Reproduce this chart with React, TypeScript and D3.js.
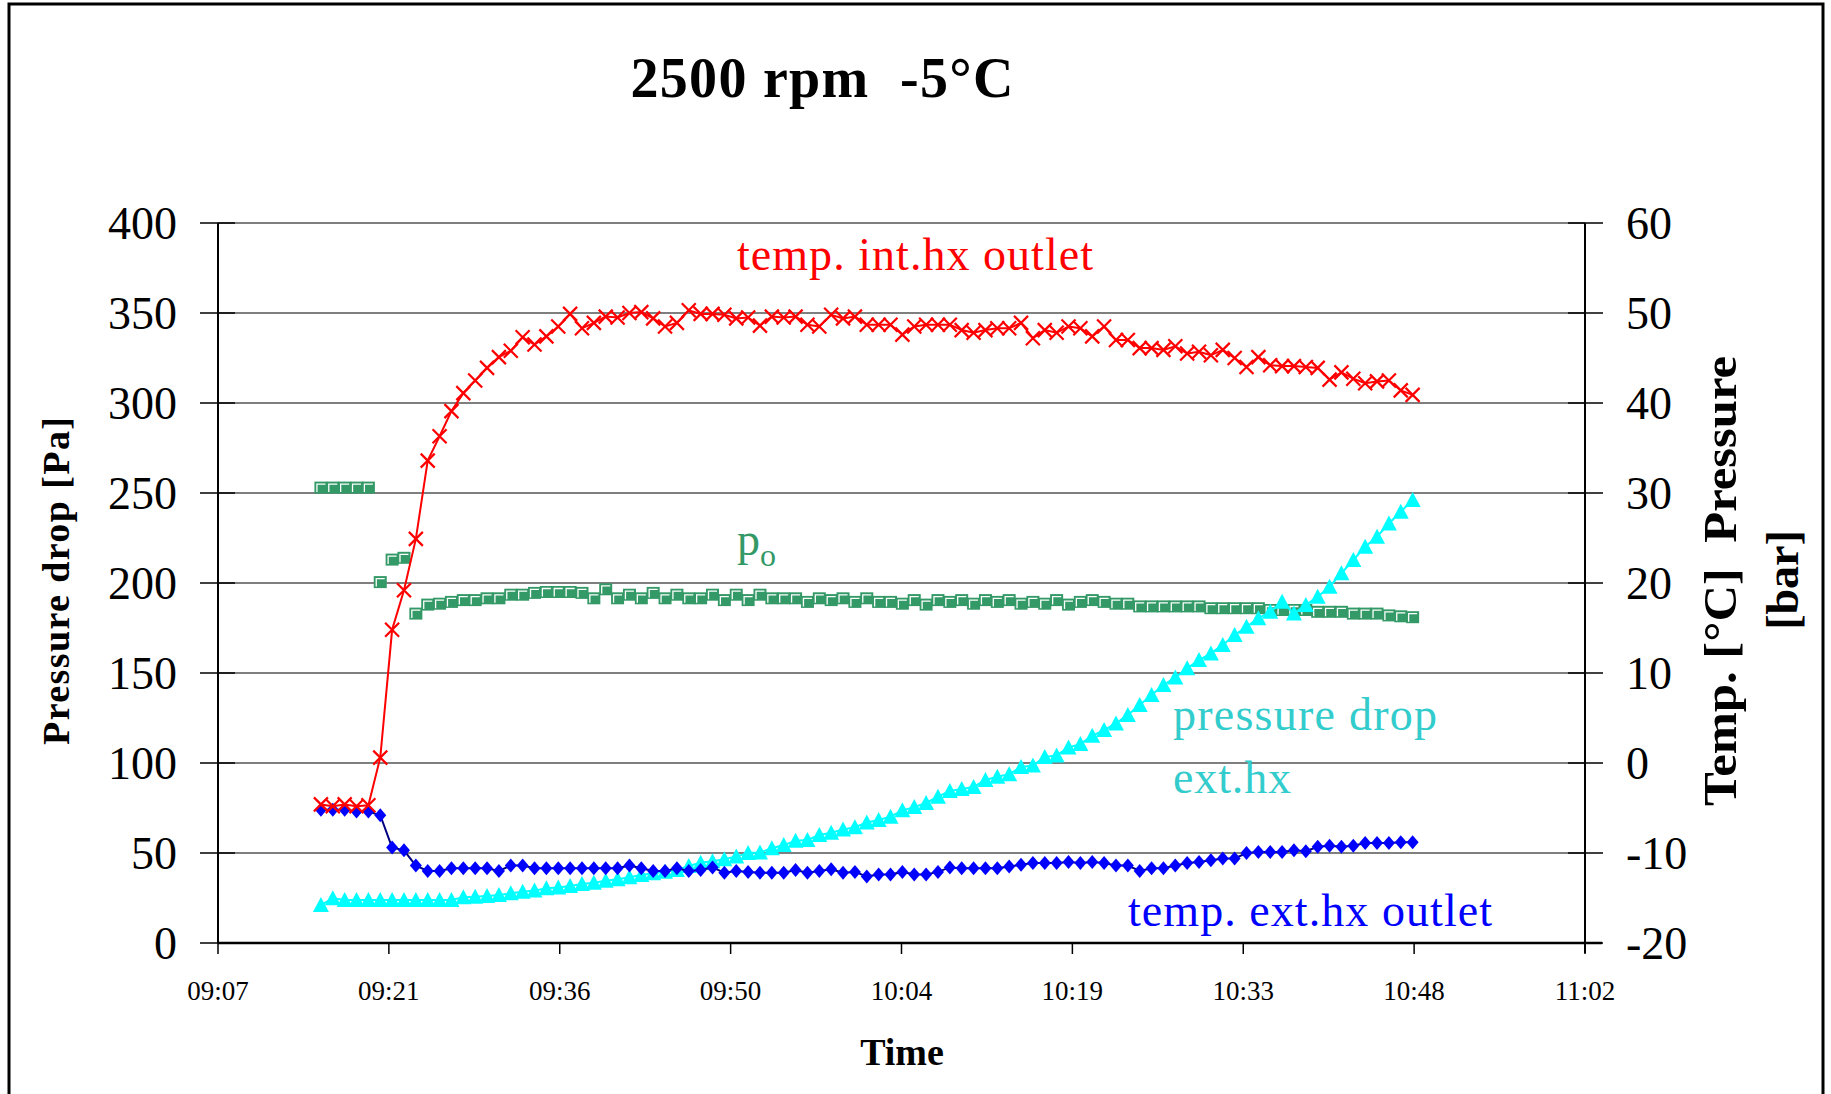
import * as d3 from 'd3'

// logger time stamps (one sample per minute)
const times = [
  '09:16', '09:17', '09:18', '09:19', '09:20', '09:21', '09:22', '09:23', '09:24', '09:25',
  '09:26', '09:27', '09:28', '09:29', '09:30', '09:31', '09:32', '09:33', '09:34', '09:35',
  '09:36', '09:37', '09:38', '09:39', '09:40', '09:41', '09:42', '09:43', '09:44', '09:45',
  '09:46', '09:47', '09:48', '09:49', '09:50', '09:51', '09:52', '09:53', '09:54', '09:55',
  '09:56', '09:57', '09:58', '09:59', '10:00', '10:01', '10:02', '10:03', '10:04', '10:05',
  '10:06', '10:07', '10:08', '10:09', '10:10', '10:11', '10:12', '10:13', '10:14', '10:15',
  '10:16', '10:17', '10:18', '10:19', '10:20', '10:21', '10:22', '10:23', '10:24', '10:25',
  '10:26', '10:27', '10:28', '10:29', '10:30', '10:31', '10:32', '10:33', '10:34', '10:35',
  '10:36', '10:37', '10:38', '10:39', '10:40', '10:41', '10:42', '10:43', '10:44', '10:45',
  '10:46', '10:47', '10:48',
]

// pressure drop ext.hx [Pa] (left axis)
const pressureDrop = [
  21.1, 24.8, 23.9, 23.9, 23.9, 23.9, 23.9, 23.9, 23.9, 23.9,
  23.9, 23.9, 25.4, 25.7, 26.1, 26.7, 27.6, 28.5, 29.1, 30.4,
  30.9, 31.7, 32.8, 33.5, 34.6, 35.4, 36.5, 37.8, 38.7, 39.6,
  40.6, 42.8, 44.6, 45.4, 46.5, 48.0, 50.0, 50.3, 52.6, 54.4,
  56.8, 57.2, 60.0, 61.3, 63.1, 64.3, 66.9, 68.3, 70.2, 73.7,
  75.5, 77.8, 81.3, 84.5, 85.5, 86.7, 90.6, 92.4, 93.8, 97.8,
  98.6, 103.3, 104.2, 108.6, 110.5, 115.1, 118.3, 122.0, 126.7, 132.2,
  137.8, 143.3, 147.5, 152.6, 157.2, 160.9, 165.6, 171.1, 175.7, 180.4,
  184.0, 189.6, 183.1, 187.8, 192.4, 197.9, 205.4, 212.8, 220.2, 225.7,
  233.1, 239.6, 246.1,
]

// p_o [bar] (right axis)
const po = [
  30.6, 30.6, 30.6, 30.6, 30.6, 20.1, 22.6, 22.8, 16.6, 17.6,
  17.7, 17.9, 18.1, 18.1, 18.3, 18.3, 18.7, 18.7, 18.9, 19.0,
  19.0, 19.0, 18.9, 18.3, 19.3, 18.3, 18.7, 18.3, 18.9, 18.3,
  18.7, 18.3, 18.3, 18.7, 18.1, 18.7, 18.1, 18.7, 18.3, 18.3,
  18.3, 17.9, 18.3, 18.1, 18.3, 17.9, 18.3, 17.9, 17.9, 17.7,
  18.1, 17.6, 18.1, 17.9, 18.1, 17.7, 18.1, 17.9, 18.1, 17.7,
  17.9, 17.7, 18.1, 17.6, 17.9, 18.1, 17.9, 17.7, 17.7, 17.4,
  17.4, 17.4, 17.4, 17.4, 17.4, 17.2, 17.2, 17.2, 17.2, 17.2,
  17.0, 17.0, 17.0, 17.0, 16.8, 16.8, 16.8, 16.6, 16.6, 16.6,
  16.4, 16.3, 16.2,
]

// temp. int.hx outlet [°C] (right axis)
const tempInt = [
  -4.6, -4.8, -4.6, -4.8, -4.7, 0.6, 14.8, 19.2, 24.9, 33.6,
  36.3, 39.1, 41.1, 42.5, 43.9, 45.1, 45.8, 47.3, 46.5, 47.4,
  48.5, 49.9, 48.3, 48.9, 49.6, 49.5, 50.0, 50.1, 49.4, 48.5,
  48.9, 50.3, 49.9, 49.9, 49.8, 49.4, 49.5, 48.6, 49.6, 49.5,
  49.6, 48.7, 48.5, 49.8, 49.4, 49.6, 48.7, 48.7, 48.7, 47.6,
  48.5, 48.7, 48.7, 48.7, 48.1, 47.8, 48.1, 48.3, 48.3, 48.9,
  47.2, 48.1, 47.8, 48.5, 48.3, 47.4, 48.5, 47.0, 47.0, 46.1,
  46.1, 45.9, 46.3, 45.5, 45.7, 45.3, 45.9, 45.0, 44.0, 45.1,
  44.2, 44.1, 44.1, 44.0, 43.9, 42.6, 43.4, 42.7, 42.2, 42.4,
  42.5, 41.4, 40.9,
]

// temp. ext.hx outlet [°C] (right axis)
const tempExt = [
  -5.2, -5.2, -5.2, -5.4, -5.4, -5.8, -9.4, -9.7, -11.4, -12.0,
  -12.0, -11.7, -11.7, -11.7, -11.7, -12.0, -11.4, -11.4, -11.7, -11.7,
  -11.7, -11.7, -11.7, -11.7, -11.7, -11.7, -11.4, -11.7, -12.0, -12.0,
  -11.7, -12.0, -11.9, -11.6, -12.2, -12.0, -12.1, -12.2, -12.2, -12.2,
  -11.9, -12.2, -12.0, -11.8, -12.2, -12.1, -12.6, -12.4, -12.4, -12.1,
  -12.4, -12.4, -12.1, -11.6, -11.7, -11.7, -11.7, -11.7, -11.5, -11.3,
  -11.1, -11.1, -11.1, -11.0, -11.1, -11.0, -11.1, -11.4, -11.4, -12.0,
  -11.7, -11.7, -11.4, -11.1, -11.0, -10.8, -10.6, -10.6, -10.0, -9.9,
  -9.9, -9.9, -9.7, -9.8, -9.3, -9.2, -9.3, -9.2, -8.9, -8.9,
  -8.9, -8.8, -8.8,
]

// x axis ticks as fractions of a day (Excel style)
const xTicks = [0.38, 0.39, 0.4, 0.41, 0.42, 0.43, 0.44, 0.45, 0.46]
const xTickLabels = ['09:07', '09:21', '09:36', '09:50', '10:04', '10:19', '10:33', '10:48', '11:02']
const leftTicks = [0, 50, 100, 150, 200, 250, 300, 350, 400]
const rightTicks = [-20, -10, 0, 10, 20, 30, 40, 50, 60]

const W = 1831
const H = 1094
const plot = { left: 218, right: 1585, top: 223, bottom: 943 }
const serif = '"Liberation Serif", "Times New Roman", serif'

const toDay = (s: string) => {
  const [h, m] = s.split(':').map(Number)
  return (h * 60 + m) / 1440
}

export default function App() {
  const days = times.map(toDay)

  const x = d3.scaleLinear().domain([0.38, 0.46]).range([plot.left, plot.right])
  const yL = d3.scaleLinear().domain([0, 400]).range([plot.bottom, plot.top])
  const yR = d3.scaleLinear().domain([-20, 60]).range([plot.bottom, plot.top])

  // sampled just before the full minute
  const px = (i: number) => x(days[i]) - 1.5

  const lineR = d3
    .line<number>()
    .x((_, i) => px(i))
    .y((d) => yR(d))
  const lineL = d3
    .line<number>()
    .x((_, i) => px(i))
    .y((d) => yL(d))

  return (
    <svg width={W} height={H} style={{ position: 'absolute', left: 0, top: 0, background: '#fff' }}>
      <rect x={9} y={4} width={1814} height={1110} fill="#fff" stroke="#000" strokeWidth={3} />

      {/* title */}
      <text x={822} y={97} textAnchor="middle" fontFamily={serif} fontWeight="bold" fontSize={56} textLength={383} xmlSpace="preserve">
        2500 rpm  -5°C
      </text>

      {/* grid lines */}
      {leftTicks.slice(1).map((t) => (
        <line key={'g' + t} x1={plot.left} x2={plot.right} y1={yL(t)} y2={yL(t)} stroke="#000" strokeWidth={1.2} />
      ))}

      {/* axes */}
      <line x1={plot.left} x2={plot.left} y1={plot.top} y2={plot.bottom} stroke="#000" strokeWidth={2} />
      <line x1={plot.right} x2={plot.right} y1={plot.top} y2={plot.bottom + 10} stroke="#000" strokeWidth={2} />
      <line x1={plot.left} x2={plot.right + 17} y1={plot.bottom} y2={plot.bottom} stroke="#000" strokeWidth={2.5} />

      {leftTicks.map((t) => (
        <g key={'l' + t}>
          <line x1={plot.left - 18} x2={plot.left + 17} y1={yL(t)} y2={yL(t)} stroke="#000" strokeWidth={1.5} />
          <text x={177} y={yL(t)} dy="0.34em" textAnchor="end" fontFamily={serif} fontSize={46}>
            {t}
          </text>
        </g>
      ))}
      {rightTicks.map((t) => (
        <g key={'r' + t}>
          <line x1={plot.right - 17} x2={plot.right + 18} y1={yR(t)} y2={yR(t)} stroke="#000" strokeWidth={1.5} />
          <text x={1626} y={yR(t)} dy="0.34em" fontFamily={serif} fontSize={46}>
            {t}
          </text>
        </g>
      ))}
      {xTicks.map((t, i) => (
        <g key={'x' + t}>
          <line x1={x(t)} x2={x(t)} y1={plot.bottom} y2={plot.bottom + 11} stroke="#000" strokeWidth={1.5} />
          <text x={x(t)} y={1000} textAnchor="middle" fontFamily={serif} fontSize={27}>
            {xTickLabels[i]}
          </text>
        </g>
      ))}

      {/* axis titles */}
      <text x={902} y={1065} textAnchor="middle" fontFamily={serif} fontWeight="bold" fontSize={38}>
        Time
      </text>
      <text transform="translate(69,581) rotate(-90)" textAnchor="middle" fontFamily={serif} fontWeight="bold" fontSize={38} textLength={328}>
        Pressure drop [Pa]
      </text>
      <text transform="translate(1736,581) rotate(-90)" textAnchor="middle" fontFamily={serif} fontWeight="bold" fontSize={46} textLength={450} lengthAdjust="spacingAndGlyphs" xmlSpace="preserve">
        Temp. [°C]  Pressure
      </text>
      <text transform="translate(1798,580) rotate(-90)" textAnchor="middle" fontFamily={serif} fontWeight="bold" fontSize={46}>
        [bar]
      </text>

      {/* p_o squares */}
      {po.map((d, i) => (
        <g key={'po' + i} transform={`translate(${px(i)},${yR(d)})`}>
          <rect x={-6.5} y={-6} width={13} height={12} fill="#339966" />
          <path d="M-4,4.5V-3.5H4.5" fill="none" stroke="#fff" strokeWidth={1.3} />
        </g>
      ))}

      {/* pressure drop ext.hx */}
      <path d={lineL(pressureDrop) ?? ''} fill="none" stroke="#00ffff" strokeWidth={2} />
      {pressureDrop.map((d, i) => (
        <path key={'pd' + i} transform={`translate(${px(i)},${yL(d)})`} d="M0,-8L8,7L-8,7Z" fill="#00ffff" />
      ))}

      {/* temp. ext.hx outlet */}
      <path d={lineR(tempExt) ?? ''} fill="none" stroke="#000080" strokeWidth={2} />
      {tempExt.map((d, i) => (
        <path key={'te' + i} transform={`translate(${px(i)},${yR(d)})`} d="M0,-7L6,0L0,7L-6,0Z" fill="#0000ff" />
      ))}

      {/* temp. int.hx outlet */}
      <path d={lineR(tempInt) ?? ''} fill="none" stroke="#ff0000" strokeWidth={2} />
      {tempInt.map((d, i) => (
        <path key={'ti' + i} transform={`translate(${px(i)},${yR(d)})`} d="M-7,-7L7,7M7,-7L-7,7" stroke="#ff0000" strokeWidth={2.2} fill="none" />
      ))}

      {/* series labels */}
      <text x={737} y={270} fontFamily={serif} fontSize={46} fill="#ff0000" textLength={356} xmlSpace="preserve">
        temp. int.hx outlet
      </text>
      <text x={737} y={555} fontFamily={serif} fontSize={46} fill="#339966">
        p<tspan fontSize={32} dy={11}>o</tspan>
      </text>
      <text x={1173} y={730} fontFamily={serif} fontSize={46} fill="#33cccc" textLength={264}>
        pressure drop
      </text>
      <text x={1173} y={793} fontFamily={serif} fontSize={46} fill="#33cccc" textLength={118}>
        ext.hx
      </text>
      <text x={1128} y={926} fontFamily={serif} fontSize={46} fill="#0000ff" textLength={364}>
        temp. ext.hx outlet
      </text>
    </svg>
  )
}
